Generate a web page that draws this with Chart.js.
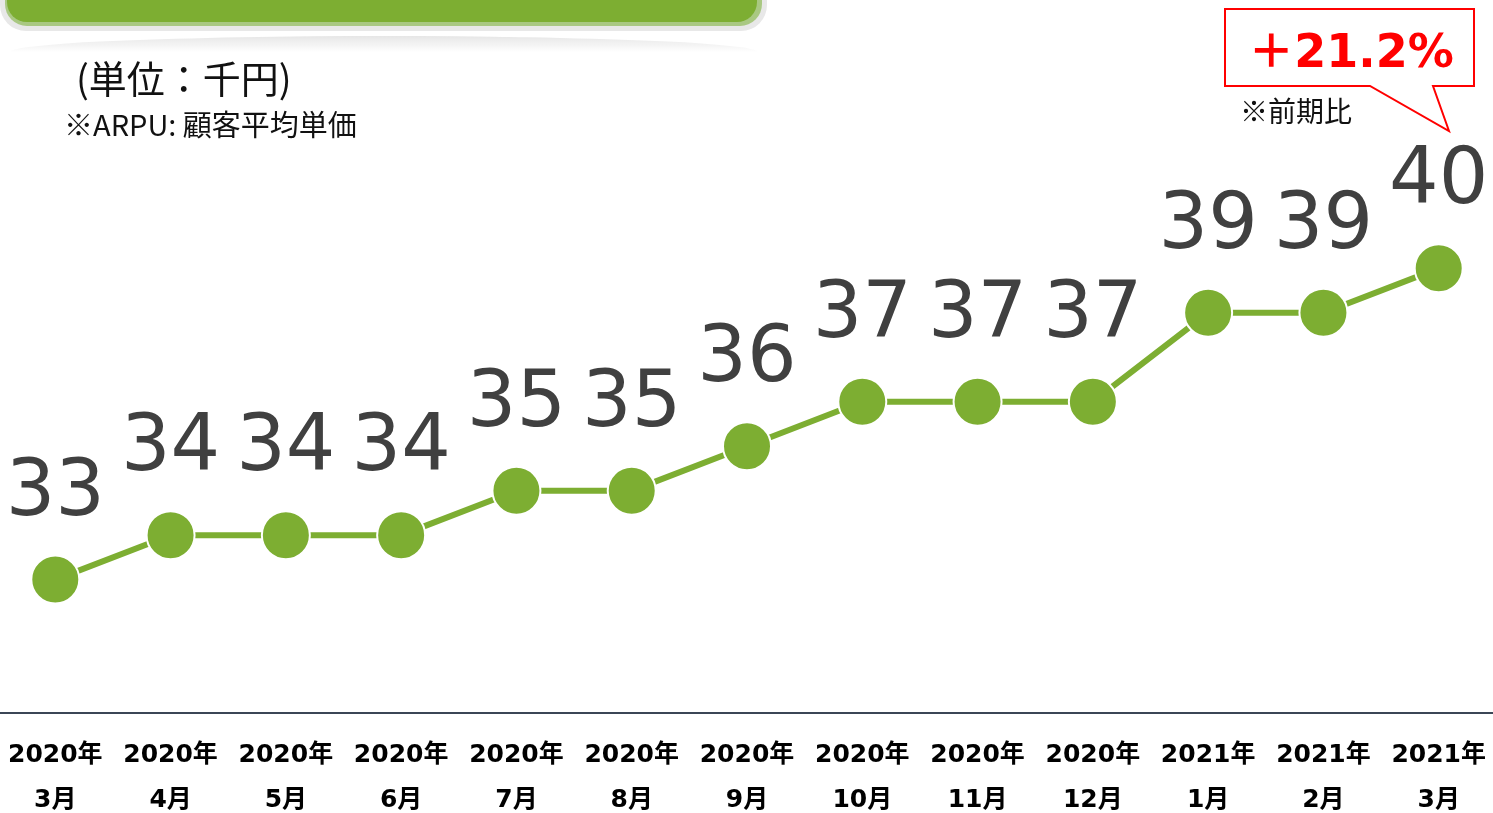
<!DOCTYPE html>
<html>
<head>
<meta charset="utf-8">
<script src="https://cdn.jsdelivr.net/npm/chart.js@4.4.1/dist/chart.umd.min.js"></script>
<style>
  html, body { margin: 0; padding: 0; background: #fff; overflow: hidden; }
  body { width: 1493px; height: 813px; position: relative; font-family: "Noto Sans CJK JP", "Noto Sans", sans-serif; }
  #wrap { position: absolute; left: -4px; top: 0; width: 1502px; height: 835px; }
  .banner-out { position: absolute; left: 0; top: -30px; width: 767px; height: 61px; background: #e8e8e8; border-radius: 0 0 26px 26px; }
  .banner-mid { position: absolute; left: 5px; top: -30px; width: 757px; height: 56px; background: #a9c882; border-radius: 0 0 22px 22px; }
  .banner-in { position: absolute; left: 7px; top: -30px; width: 750px; height: 52px; background: #7dae32; border-radius: 0 0 20px 20px; }
  .refl { position: absolute; left: 10px; top: 36px; width: 748px; height: 16px; border-radius: 50% 50% 0 0 / 100% 100% 0 0;
          background: linear-gradient(#e6e6e6, rgba(255,255,255,0)); }
  .unit { position: absolute; left: 76px; top: 49px; font-size: 38px; color: #111; white-space: nowrap; }
  .note { position: absolute; left: 64px; top: 102px; font-size: 29px; color: #111; white-space: nowrap; }
  .sub { position: absolute; left: 1240px; top: 90px; font-size: 28px; color: #111; white-space: nowrap; }
  #callout { position: absolute; left: 0; top: 0; }
  .pct { position: absolute; left: 1226px; top: 14px; width: 250px; text-align: center; font-family: "DejaVu Sans", "Noto Sans CJK JP", sans-serif;
         font-weight: bold; font-size: 46px; color: #ff0000; white-space: nowrap; }
</style>
</head>
<body>
<div id="wrap"><canvas id="myChart" width="1502" height="835"></canvas></div>
<div class="banner-out"></div>
<div class="banner-mid"></div>
<div class="banner-in"></div>
<div class="refl"></div>
<div class="unit">(単位：千円)</div>
<div class="note">※ARPU: 顧客平均単価</div>
<svg id="callout" width="1493" height="140">
  <path d="M1225 9 L1474 9 L1474 86 L1433 86 L1449 131 L1370 86 L1225 86 Z" fill="#fff" stroke="#ff0000" stroke-width="2"/>
</svg>
<div class="pct">＋21.2%</div>
<div class="sub">※前期比</div>
<script>
// months on the x axis (two lines each)
const years = ["2020年", "2020年", "2020年", "2020年", "2020年", "2020年", "2020年", "2020年", "2020年", "2020年", "2021年", "2021年", "2021年"];
const months = ["3月", "4月", "5月", "6月", "7月", "8月", "9月", "10月", "11月", "12月", "1月", "2月", "3月"];
// ARPU in thousand yen
const arpu = [33, 34, 34, 34, 35, 35, 36, 37, 37, 37, 39, 39, 40];

const green = '#7dae32';

// full width base line under the plot
const baseLine = {
  id: 'baseLine',
  beforeDatasetsDraw(chart) {
    const ctx = chart.ctx;
    const y = chart.scales.x.top;
    ctx.save();
    ctx.strokeStyle = '#3b4656';
    ctx.lineWidth = 2;
    ctx.beginPath();
    ctx.moveTo(0, y);
    ctx.lineTo(chart.width, y);
    ctx.stroke();
    ctx.restore();
  }
};

// draws the big value above each point
const valueLabels = {
  id: 'valueLabels',
  afterDatasetsDraw(chart) {
    const ctx = chart.ctx;
    const meta = chart.getDatasetMeta(0);
    ctx.save();
    ctx.font = '78px "DejaVu Sans", sans-serif';
    ctx.fillStyle = '#404040';
    ctx.textAlign = 'center';
    ctx.textBaseline = 'alphabetic';
    meta.data.forEach((pt, i) => {
      ctx.fillText(String(chart.data.datasets[0].data[i]), pt.x, pt.y - 65);
    });
    ctx.restore();
  }
};

const labels = years.map((y, i) => [y, months[i]]);

new Chart(document.getElementById('myChart'), {
  type: 'line',
  data: {
    labels: labels,
    datasets: [{
      data: arpu,
      borderColor: green,
      borderWidth: 6,
      backgroundColor: green,
      pointRadius: 24,
      pointHoverRadius: 24,
      pointBackgroundColor: green,
      pointBorderColor: '#ffffff',
      pointBorderWidth: 2,
      tension: 0,
      clip: false
    }]
  },
  options: {
    responsive: false,
    animation: false,
    events: [],
    layout: { autoPadding: false, padding: { top: 46, left: 0, right: 0, bottom: 0 } },
    plugins: { legend: { display: false }, tooltip: { enabled: false } },
    scales: {
      x: {
        offset: false,
        grid: { display: false },
        border: { display: false },
        ticks: {
          color: '#000',
          padding: 12,
          maxRotation: 0,
          autoSkip: false,
          font: { family: '"DejaVu Sans", "Noto Sans CJK JP", sans-serif', size: 25, weight: 'bold', lineHeight: 1.8 }
        }
      },
      y: {
        display: false,
        min: 30,
        max: 45
      }
    }
  },
  plugins: [baseLine, valueLabels]
});
</script>
</body>
</html>
